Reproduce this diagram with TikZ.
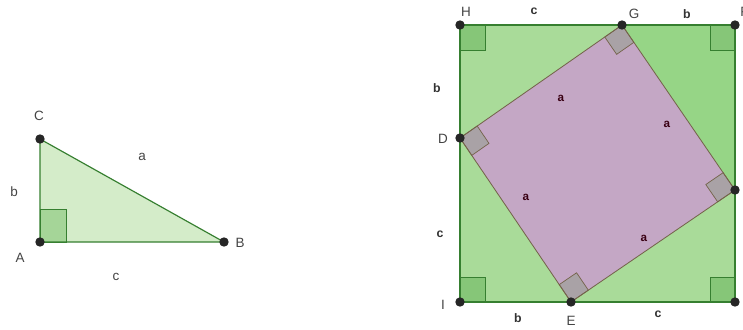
\documentclass[tikz,border=0pt]{standalone}
\usepackage{fontspec}
\setmainfont{Liberation Sans}
\usetikzlibrary{calc}

\definecolor{edgegreen}{HTML}{367F30}
\definecolor{trifill}{HTML}{D4ECC9}
\definecolor{markgreen}{HTML}{86C678}
\definecolor{sqfill}{HTML}{A9DB99}
\definecolor{sqdark}{HTML}{96D586}
\definecolor{innerfill}{HTML}{C4A7C5}
\definecolor{inneredge}{HTML}{74634A}
\definecolor{innermark}{HTML}{A9A2A6}
\definecolor{labelgray}{HTML}{444444}

\begin{document}
\begin{tikzpicture}[
    x=0.03cm, y=-0.03cm,
    edge/.style={draw=edgegreen, line width=1pt},
    inner/.style={draw=inneredge, line width=0.7pt},
    dot/.style={circle, fill=black!85, inner sep=0pt, minimum size=8pt},
    lbl/.style={text=labelgray, font=\fontsize{11.5}{13}\selectfont, inner sep=1pt},
    side/.style={text=black!80, font=\fontsize{10.5}{12}\selectfont\bfseries, inner sep=1pt},
    alabel/.style={text=black!70!purple, font=\fontsize{10}{12}\selectfont\bfseries, inner sep=1pt}
]
\useasboundingbox (0,0) rectangle (743,329);

% Triangle points
\coordinate (A) at (40,242);
\coordinate (B) at (224,242);
\coordinate (C) at (40,139);

% Triangle
\fill[trifill] (A) -- (B) -- (C) -- cycle;
\fill[markgreen!60!trifill, draw=edgegreen, line width=0.7pt] (A) rectangle ++(26,-33);
\draw[edge] (A) -- (B) -- (C) -- cycle;
\foreach \cor in {A,B,C} \node[dot] at (\cor) {};

% Triangle labels
\node[lbl] (lC) at (39,116) {C};
\node[lbl] (lA) at (20,258) {A};
\node[lbl] (lB) at (240,243) {B};
\node[lbl] (lb) at (14,192) {b};
\node[lbl] (la) at (142,157) {a};
\node[lbl] (lc) at (116,277) {c};

% Square corners
\coordinate (H) at (460,25);
\coordinate (F) at (735,25);
\coordinate (J) at (735,302);
\coordinate (I) at (460,302);

% Inner square
\coordinate (G) at (622,25);
\coordinate (K) at (735,190);
\coordinate (E) at (571,302);
\coordinate (D) at (460,138);

% Fills
\fill[sqfill] (H) -- (F) -- (J) -- (I) -- cycle;
\fill[sqdark] (G) -- (F) -- (K) -- cycle;
\fill[innerfill] (G) -- (K) -- (E) -- (D) -- cycle;

% Right angle marks
\foreach \cor/\ua/\ub in {H/F/I, F/H/J, J/F/I, I/H/J}
    \filldraw[fill=markgreen, draw=edgegreen, line width=0.6pt]
        let \p0=(\cor), \p1=($(\cor)!0.75cm!(\ua)$), \p2=($(\cor)!0.75cm!(\ub)$)
        in (\cor) -- (\p1) -- (\x1+\x2-\x0, \y1+\y2-\y0) -- (\p2) -- cycle;
\foreach \cor/\ua/\ub in {G/D/K, K/G/E, E/K/D, D/E/G}
    \filldraw[fill=innermark, draw=inneredge, line width=0.6pt]
        let \p0=(\cor), \p1=($(\cor)!0.63cm!(\ua)$), \p2=($(\cor)!0.63cm!(\ub)$)
        in (\cor) -- (\p1) -- (\x1+\x2-\x0, \y1+\y2-\y0) -- (\p2) -- cycle;

% Edges
\draw[inner] (G) -- (K) -- (E) -- (D) -- cycle;
\draw[edge] (H) -- (F) -- (J) -- (I) -- cycle;
\foreach \cor in {H,F,J,I,G,K,E,D} \node[dot] at (\cor) {};

% Square labels
\node[lbl] (lH) at (466,12) {H};
\node[lbl] (lG) at (634,14) {G};
\node[lbl, anchor=west] (lF) at (739,12) {F};
\node[lbl] (lD) at (443,139) {D};
\node[lbl] (lI) at (443,305) {I};
\node[lbl] (lE) at (571,321) {E};

% Side labels
\node[side] (sHG) at (534,11) {c};
\node[side] (sGF) at (687,14) {b};
\node[side] (sHD) at (437,88) {b};
\node[side] (sDI) at (440,234) {c};
\node[side] (sIE) at (518,318) {b};
\node[side] (sEJ) at (658,314) {c};

% Inner sides
\node[alabel] (aGD) at (561,98) {a};
\node[alabel] (aGK) at (667,124) {a};
\node[alabel] (aDE) at (526,197) {a};
\node[alabel] (aEK) at (644,238) {a};

\end{tikzpicture}
\end{document}
